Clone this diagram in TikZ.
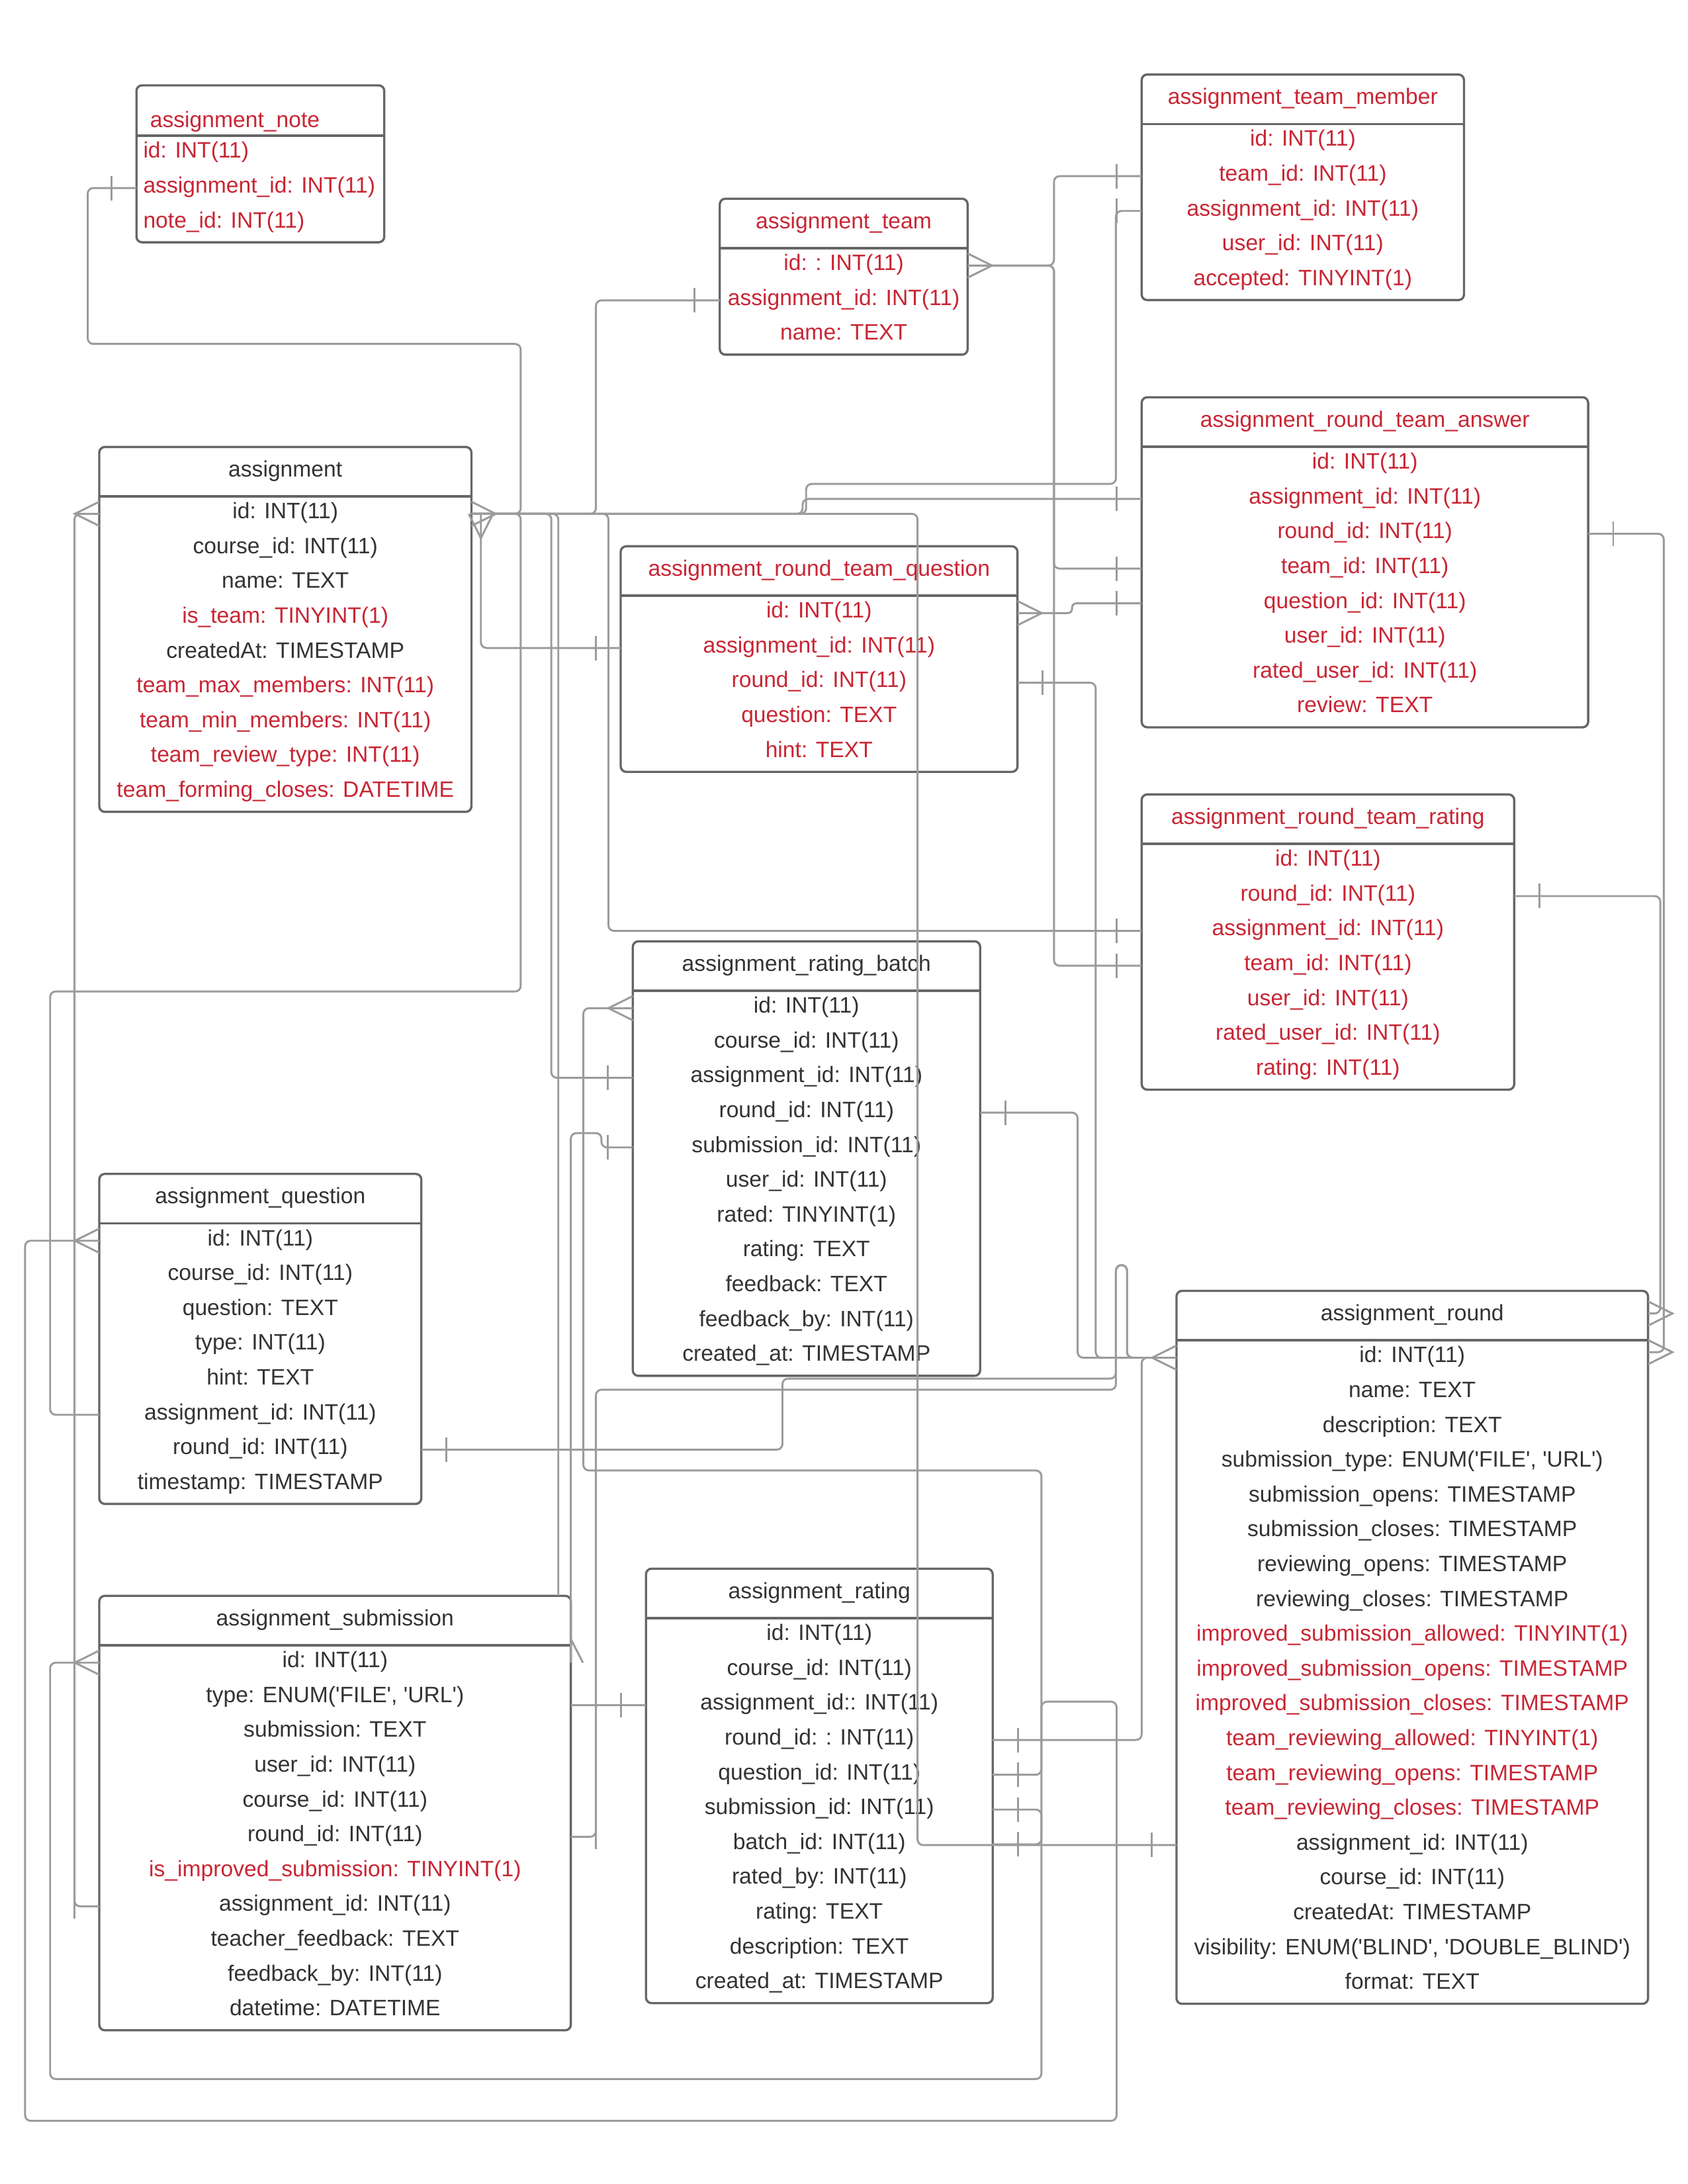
\documentclass[tikz,border=0pt]{standalone}
\usepackage{fontspec}
\newfontfamily\erfont{Liberation Sans}[Ligatures=TeXOff]
\usetikzlibrary{calc}
\definecolor{bk}{RGB}{51,51,51}
\definecolor{rd}{RGB}{200,38,52}
\definecolor{boxc}{RGB}{102,102,102}
\definecolor{lnc}{RGB}{155,155,155}

% #1 name, #2 x1, #3 x2, #4 top, #5 rows, #6 header colour, #7 header, #8 rows list
\newcommand\ertable[8]{%
  \pgfmathsetmacro\tSep{#4+35.5}%
  \pgfmathsetmacro\tBot{\tSep+25*#5+1.5}%
  \pgfmathsetmacro\tCx{(#2+#3)/2}%
  \pgfmathsetmacro\tCy{(#4+\tBot)/2}%
  \pgfmathsetmacro\tW{#3-#2}%
  \pgfmathsetmacro\tH{\tBot-#4}%
  \node[tbl, minimum width=\tW pt, minimum height=\tH pt] (#1) at (\tCx,\tCy) {};
  \draw[sepline] (#2,\tSep) -- (#3,\tSep);
  \coordinate (#1-hc) at (\tCx,{(#4+\tSep)/2});
  \node[fld, text=#6] (#1-h) at (\tCx,{#4+21.5}) {#7};
  \foreach \rowc/\rowt [count=\ri] in {#8} {
    \coordinate (#1-r\ri) at (\tCx,{\tSep+12.5+25*(\ri-1)});
    \node[fld, text=\rowc] (#1-t\ri) at (\tCx,{\tSep+16+25*(\ri-1)}) {\rowt};
  }%
}
\newcommand\tickW[1]{\draw[mk] ($(#1)+(-18,-8.8)$) -- ($(#1)+(-18,8.8)$);}
\newcommand\tickE[1]{\draw[mk] ($(#1)+(18,-8.8)$) -- ($(#1)+(18,8.8)$);}
\newcommand\crowW[1]{\draw[mk] ($(#1)+(0,-8.7)$) -- ($(#1)+(-17.5,0)$) -- ($(#1)+(0,8.7)$);}
\newcommand\crowE[1]{\draw[mk] ($(#1)+(0,-8.7)$) -- ($(#1)+(17.5,0)$) -- ($(#1)+(0,8.7)$);}

\begin{document}
\begin{tikzpicture}[x=1pt,y=-1pt,
  tbl/.style={draw=boxc, line width=1.6pt, fill=white, rounded corners=4pt, inner sep=0pt, outer sep=0pt},
  sepline/.style={draw=boxc, line width=1.6pt},
  fld/.style={font=\erfont\fontsize{16}{19}\selectfont, inner sep=0pt, anchor=base},
  conn/.style={draw=lnc, line width=1.4pt, rounded corners=4pt},
  mk/.style={draw=lnc, line width=1.4pt}]
\useasboundingbox (0,0) rectangle (1212,1568.4);
\fill[white] (0,0) rectangle (1212,1568.4);

% ---------- tables ----------
\node[tbl, minimum width=178pt, minimum height=112.7pt] (note) at (187,117.65) {};
\draw[sepline] (98,97.5) -- (276,97.5);
\node[fld, text=rd, anchor=base west] (note-h) at (107.6,91.3) {assignment\_note};
\foreach \rowt [count=\ri] in {id: INT(11), assignment\_id: INT(11), note\_id: INT(11)} {
  \coordinate (note-r\ri) at (187,{97.5+12.5+25*(\ri-1)});
  \node[fld, text=rd, anchor=base west] (note-t\ri) at (102.7,{97.5+16+25*(\ri-1)}) {\rowt};
}

\ertable{team}{517}{695}{142.7}{3}{rd}{assignment\_team}{rd/id: : INT(11), rd/assignment\_id: INT(11), rd/name: TEXT}
\ertable{mem}{820}{1051.5}{53.5}{5}{rd}{assignment\_team\_member}{rd/id: INT(11), rd/team\_id: INT(11), rd/assignment\_id: INT(11), rd/user\_id: INT(11), rd/accepted: TINYINT(1)}
\ertable{asg}{71.3}{338.6}{321}{9}{bk}{assignment}{bk/id: INT(11), bk/course\_id: INT(11), bk/name: TEXT, rd/is\_team: TINYINT(1), bk/createdAt: TIMESTAMP, rd/team\_max\_members: INT(11), rd/team\_min\_members: INT(11), rd/team\_review\_type: INT(11), rd/team\_forming\_closes: DATETIME}
\ertable{ans}{820}{1140.7}{285.3}{8}{rd}{assignment\_round\_team\_answer}{rd/id: INT(11), rd/assignment\_id: INT(11), rd/round\_id: INT(11), rd/team\_id: INT(11), rd/question\_id: INT(11), rd/user\_id: INT(11), rd/rated\_user\_id: INT(11), rd/review: TEXT}
\ertable{tq}{445.8}{730.8}{392.3}{5}{rd}{assignment\_round\_team\_question}{rd/id: INT(11), rd/assignment\_id: INT(11), rd/round\_id: INT(11), rd/question: TEXT, rd/hint: TEXT}
\ertable{trt}{820}{1087.6}{570.5}{7}{rd}{assignment\_round\_team\_rating}{rd/id: INT(11), rd/round\_id: INT(11), rd/assignment\_id: INT(11), rd/team\_id: INT(11), rd/user\_id: INT(11), rd/rated\_user\_id: INT(11), rd/rating: INT(11)}
\ertable{bat}{454.5}{704}{676}{11}{bk}{assignment\_rating\_batch}{bk/id: INT(11), bk/course\_id: INT(11), bk/assignment\_id: INT(11), bk/round\_id: INT(11), bk/submission\_id: INT(11), bk/user\_id: INT(11), bk/rated: TINYINT(1), bk/rating: TEXT, bk/feedback: TEXT, bk/feedback\_by: INT(11), bk/created\_at: TIMESTAMP}
\ertable{q}{71.3}{302.6}{843}{8}{bk}{assignment\_question}{bk/id: INT(11), bk/course\_id: INT(11), bk/question: TEXT, bk/type: INT(11), bk/hint: TEXT, bk/assignment\_id: INT(11), bk/round\_id: INT(11), bk/timestamp: TIMESTAMP}
\ertable{rnd}{845}{1183.7}{927}{19}{bk}{assignment\_round}{bk/id: INT(11), bk/name: TEXT, bk/description: TEXT, bk/{submission\_type: ENUM('FILE', 'URL')}, bk/submission\_opens: TIMESTAMP, bk/submission\_closes: TIMESTAMP, bk/reviewing\_opens: TIMESTAMP, bk/reviewing\_closes: TIMESTAMP, rd/improved\_submission\_allowed: TINYINT(1), rd/improved\_submission\_opens: TIMESTAMP, rd/improved\_submission\_closes: TIMESTAMP, rd/team\_reviewing\_allowed: TINYINT(1), rd/team\_reviewing\_opens: TIMESTAMP, rd/team\_reviewing\_closes: TIMESTAMP, bk/assignment\_id: INT(11), bk/course\_id: INT(11), bk/createdAt: TIMESTAMP, bk/{visibility: ENUM('BLIND', 'DOUBLE\_BLIND')}, bk/format: TEXT}
\ertable{sub}{71.3}{410}{1146}{11}{bk}{assignment\_submission}{bk/id: INT(11), bk/{type: ENUM('FILE', 'URL')}, bk/submission: TEXT, bk/user\_id: INT(11), bk/course\_id: INT(11), bk/round\_id: INT(11), rd/is\_improved\_submission: TINYINT(1), bk/assignment\_id: INT(11), bk/teacher\_feedback: TEXT, bk/feedback\_by: INT(11), bk/datetime: DATETIME}
\ertable{rt}{464}{713}{1126.5}{11}{bk}{assignment\_rating}{bk/id: INT(11), bk/course\_id: INT(11), bk/assignment\_id:: INT(11), bk/round\_id: : INT(11), bk/question\_id: INT(11), bk/submission\_id: INT(11), bk/batch\_id: INT(11), bk/rated\_by: INT(11), bk/rating: TEXT, bk/description: TEXT, bk/created\_at: TIMESTAMP}

% ---------- connector end points ----------
\coordinate (asgE) at (asg.east |- asg-r1);
\coordinate (asgW) at (asg.west |- asg-r1);
\coordinate (noteW) at (note.west |- note-r2);
\coordinate (qW1) at (q.west |- q-r1);
\coordinate (qW6) at (q.west |- q-r6);
\coordinate (qE7) at (q.east |- q-r7);
\coordinate (rndW1) at (rnd.west |- rnd-r1);
\coordinate (rndW15) at (rnd.west |- rnd-r15);
\coordinate (rndEh) at ($(rnd.east |- rnd-hc)+(0,-1.5)$);
\coordinate (rndE1) at ($(rnd.east |- rnd-r1)+(0,-4)$);
\coordinate (tqW2) at (tq.west |- tq-r2);
\coordinate (tqE1) at (tq.east |- tq-r1);
\coordinate (tqE3) at (tq.east |- tq-r3);
\coordinate (teamW2) at (team.west |- team-r2);
\coordinate (teamE1) at (team.east |- team-r1);
\coordinate (memW2) at (mem.west |- mem-r2);
\coordinate (memW3) at (mem.west |- mem-r3);
\coordinate (ansW2) at (ans.west |- ans-r2);
\coordinate (ansW4) at (ans.west |- ans-r4);
\coordinate (ansW5) at (ans.west |- ans-r5);
\coordinate (ansE3) at (ans.east |- ans-r3);
\coordinate (trtW3) at (trt.west |- trt-r3);
\coordinate (trtW4) at (trt.west |- trt-r4);
\coordinate (trtE2) at (trt.east |- trt-r2);
\coordinate (batW1) at (bat.west |- bat-r1);
\coordinate (batW3) at (bat.west |- bat-r3);
\coordinate (batW5) at (bat.west |- bat-r5);
\coordinate (batE4) at (bat.east |- bat-r4);
\coordinate (rtW3) at (rt.west |- rt-r3);
\coordinate (rtE4) at (rt.east |- rt-r4);
\coordinate (rtE5) at (rt.east |- rt-r5);
\coordinate (rtE6) at (rt.east |- rt-r6);
\coordinate (rtE7) at (rt.east |- rt-r7);
\coordinate (subW1) at (sub.west |- sub-r1);
\coordinate (subW8) at (sub.west |- sub-r8);
\coordinate (subE1) at (sub.east |- sub-r1);
\coordinate (subE3) at (sub.east |- rt-r3);
\coordinate (subE6) at (sub.east |- sub-r6);
\coordinate (subTop) at (401,1146);

% ---------- connectors ----------
\draw[conn] (noteW) -| (63,247) -| (374,369) -- (asgE);
\draw[conn] (asgE) -| (374,712) -| (36,1016) -- (qW6);
\draw[conn] (asgE) -| (659,1325) -- (rndW15);
\draw[conn] ($(asgE)+(6.8,0)$) |- (tqW2);
\draw[conn] (teamW2) -| (428,369) -- (asgE);
\draw[conn] (memW3) -| (801.5,347.5) -| (579,369) -- (asgE);
\draw[conn] (ansW2) -| (576.5,369) -- (asgE);
\draw[conn] (asgE) -| (396,774) -- (batW3);
\draw[conn] (asgE) -| (subTop);
\draw[conn] (asgE) -| (437,668.5) -- (trtW3);
\draw[conn] (teamE1) -| (757,126.5) -- (memW2);
\draw[conn] (teamE1) -| (757,408.3) -- (ansW4);
\draw[conn] (teamE1) -| (757,693.5) -- (trtW4);
\draw[conn, rounded corners=3pt] (tqE1) -- (770,440.3) |- (ansW5);
\draw[conn] (tqE3) -| (787,975) -- (rndW1);
\draw[conn] (batE4) -| (774,975) -- (rndW1);
\draw[conn] (rtE4) -| (820,975) -- (rndW1);
\draw[conn] (qE7) -| (562,990) -| (801.5,908.5) -- (809.5,908.5) |- (rndW1);
\draw[conn] (subE6) -| (428,998) -| (801.5,908.5) -- (809.5,908.5) |- (rndW1);
\draw[conn] (rtE5) -| (748,1222) -| (802,1523) -| (18,891) -- (qW1);
\draw[conn] (rtE6) -| (748,1493) -| (36,1194) -- (subW1);
\draw[conn] (rtE7) -| (748,1056) -| (419,724) -- (batW1);
\draw[conn] (subE1) |- (432,813.7) |- (batW5);
\draw[conn] (subE3) -- (rtW3);
\draw[conn] (ansE3) -| (1195,971) -- (rndE1);
\draw[conn] (trtE2) -| (1192.5,943.25) -- (rndEh);
\draw[conn] (subW8) -| (53.5,369) -- (asgW);

% ---------- markers ----------
\foreach \p in {noteW,teamW2,memW2,memW3,ansW2,ansW4,ansW5,trtW3,trtW4,batW3,batW5,rndW15,tqW2,rtW3,subW8} {\tickW{\p}}
\foreach \p in {tqE3,batE4,rtE4,rtE5,rtE6,rtE7,qE7,subE6,ansE3,trtE2} {\tickE{\p}}
\foreach \p in {asgW,rndW1,qW1,subW1,batW1} {\crowW{\p}}
\foreach \p in {asgE,teamE1,tqE1,rndEh,rndE1} {\crowE{\p}}
\draw[mk] ($(asgE)+(-1.9,0)$) -- ($(asgE)+(6.8,17.5)$) -- ($(asgE)+(15.5,0)$);
\draw[mk] ($(subE1)+(0,-17)$) -- ($(subE1)+(8.7,0)$);
\end{tikzpicture}
\end{document}
